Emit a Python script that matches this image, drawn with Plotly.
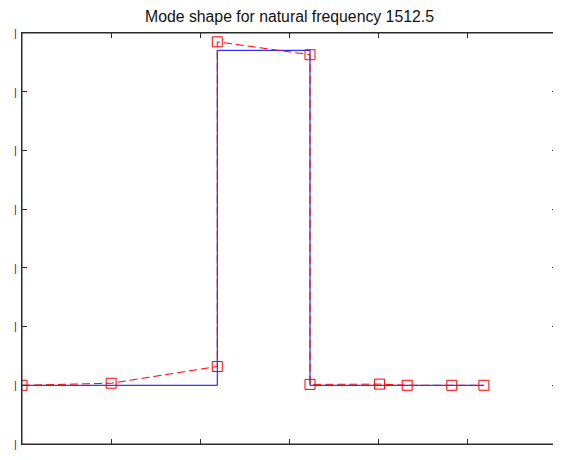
import plotly.graph_objects as go

# Exact (blue) mode shape as a step profile
blue_x = [0.0, 2.19, 2.19, 3.23, 3.23, 5.18]
blue_y = [0.0, 0.0, 1.141, 1.141, 0.0, 0.0]

# Computed (red) mode shape at nodes
red_x = [0.0, 1.0, 2.19, 2.19, 3.23, 3.23, 4.01, 4.32, 4.82, 5.18]
red_y = [0.0, 0.007, 0.064, 1.170, 1.126, 0.003, 0.004, 0.0, 0.0, 0.0]

x_ticks = [0, 1, 2, 3, 4, 5, 6]
x_tick_labels = ["0", "1", "2", "3", "4", "5", "6"]
y_ticks = [-0.2, 0.0, 0.2, 0.4, 0.6, 0.8, 1.0, 1.2]
y_tick_labels = ["|"] * 8

title_text = "Mode shape for natural frequency 1512.5"

fig = go.Figure()
fig.add_trace(go.Scatter(x=blue_x, y=blue_y, mode="lines",
                         line=dict(color="#0000ff", width=1), showlegend=False))
fig.add_trace(go.Scatter(x=red_x, y=red_y, mode="lines+markers",
                         line=dict(color="#ff0000", width=1, dash="8px,4px"),
                         marker=dict(symbol="square-open", size=10,
                                     color="#ff0000", line=dict(width=1, color="#ff0000")),
                         showlegend=False))

axis_color = "#2a2a2a"
# axes box frame (plot-area outline)
fig.add_shape(type="rect", xref="paper", yref="paper", x0=0, x1=1, y0=0, y1=1,
              line=dict(color=axis_color, width=1), layer="above")

fig.update_layout(
    template="none",
    width=553, height=452,
    margin=dict(l=14, r=4, t=25, b=16, autoexpand=False),
    paper_bgcolor="white", plot_bgcolor="white",
    title=dict(text=title_text, x=0.509, xanchor="center", y=0.9823, yanchor="middle",
               font=dict(family="Liberation Sans, Arial", size=15.8, color="#111111"),
               automargin=False),
    font=dict(family="Liberation Sans, Arial", size=11, color="#333333"),
    xaxis=dict(range=[0, 6], tickvals=x_ticks, ticktext=x_tick_labels,
               automargin=False,
               showgrid=False, zeroline=False, showline=True, linecolor=axis_color,
               linewidth=1, mirror="ticks", ticks="inside", ticklen=5,
               tickcolor=axis_color, ticklabelstandoff=16),
    yaxis=dict(range=[-0.2, 1.2], tickvals=y_ticks, ticktext=y_tick_labels,
               automargin=False,
               showgrid=False, zeroline=False, showline=True, linecolor=axis_color,
               linewidth=1, mirror="ticks", ticks="inside", ticklen=5,
               tickcolor=axis_color, ticklabelstandoff=2),
)

fig.write_html("out.html")
